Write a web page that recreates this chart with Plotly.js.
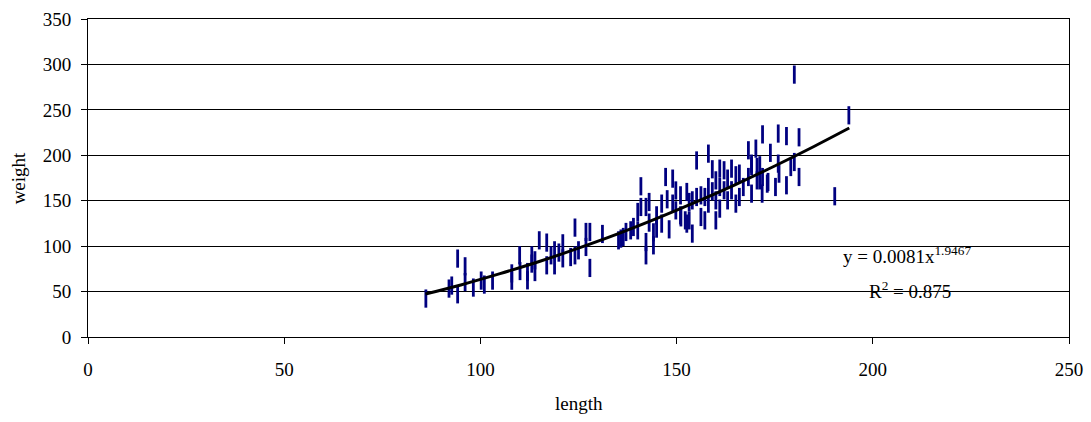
<!DOCTYPE html>
<html>
<head>
<meta charset="utf-8">
<script src="https://cdn.plot.ly/plotly-3.0.1.min.js"></script>
<style>
html,body{margin:0;padding:0;background:#fff;}
#chart{width:1091px;height:422px;}
</style>
</head>
<body>
<div id="chart"></div>
<script>
// Observed points (length, weight)
var lengthVals = [
 86.1, 92.0, 92.7, 94.2, 94.2, 96.1, 96.1, 98.2, 100.2, 101.0, 103.1, 108.0, 108.0,
 110.0, 110.1, 112.0, 112.0, 113.1, 113.1, 113.9, 113.9, 115.0, 116.9, 116.9, 118.0,
 118.9, 118.9, 120.0, 121.0, 121.0, 123.0,
 124.1, 124.1, 125.0, 126.9, 126.9, 127.9, 127.9, 131.1, 135.2, 135.8, 136.4, 137.1,
 138.3, 139.0, 140.1, 140.1, 140.9, 140.9, 142.2, 142.2, 142.2, 143.0, 143.0, 144.1,
 144.1, 144.9, 144.9, 146.2, 146.2, 147.2, 147.6, 148.1, 149.0, 149.0, 149.8, 149.8,
 151.1, 152.6, 152.6,
 151.0, 151.0, 152.2, 153.2, 153.2, 154.0, 154.0, 155.1, 155.1, 156.2, 156.2, 157.2,
 157.2, 158.1, 158.1, 158.1, 159.1, 159.1, 160.0, 160.0, 160.0, 161.0, 161.0, 161.0,
 162.1, 162.1, 163.0, 163.0, 164.0, 164.0, 165.1, 165.1, 166.0, 166.0, 167.0, 168.3,
 168.3, 169.1, 169.1, 170.2, 170.5, 170.5, 171.2, 171.2, 171.9, 171.9, 173.3, 173.9,
 175.2, 175.9, 176.1, 178.0, 178.0,
 180.0, 193.9, 190.3, 181.2, 181.2, 179.1, 180.0, 175.9, 173.1, 171.8, 169.1
];
var weightVals = [
 42.3, 53.3, 56.6, 86.3, 47.0, 77.8, 60.5, 54.4, 62.1, 57.7, 62.1, 70.0, 62.0,
 89.9, 72.6, 71.5, 62.4, 89.9, 80.8, 84.4, 71.5, 106.4, 103.9, 78.9, 89.9,
 95.4, 78.9, 92.9, 103.1, 86.6, 88.0,
 120.4, 89.9, 95.4, 115.6, 99.1, 115.6, 76.0, 113.4, 106.4, 108.3, 110.1, 115.6,
 117.4, 121.1, 137.6, 117.4, 165.9, 143.1, 143.1, 104.5, 89.9, 148.6, 125.9, 115.2,
 100.9, 133.9, 119.3, 146.8, 124.8, 176.1, 151.6, 118.5, 174.3, 146.8, 161.3, 139.4,
 131.7, 159.6, 124.8,
 155.9, 133.9, 128.4, 148.6, 128.4, 150.4, 113.8, 194.3, 154.1, 155.9, 132.1, 154.1,
 128.4, 201.8, 165.1, 146.8, 184.6, 160.4, 172.4, 150.4, 128.4, 185.3, 165.1, 141.3,
 183.5, 161.5, 174.3, 150.4, 185.3, 161.5, 178.0, 146.8, 179.8, 154.1, 165.1, 205.5,
 176.1, 190.8, 157.8, 207.3, 187.1, 172.4, 189.0, 172.4, 223.0, 176.1, 170.6, 202.7,
 165.1, 223.9, 179.8, 221.1, 167.0,
 288.8, 244.0, 154.9, 219.8, 176.1, 187.1, 192.6, 190.8, 168.8, 157.8, 188.0
];

// Power trendline
var trendX = [86, 95, 105, 115, 125, 135, 145, 155, 165, 175, 185, 194];
var trendY = [47.3, 57.3, 69.7, 83.1, 97.8, 113.5, 130.5, 148.6, 167.8, 188.2, 209.7, 230.0];

var xTicks = [0, 50, 100, 150, 200, 250];
var yTicks = [0, 50, 100, 150, 200, 250, 300, 350];

var equationText = "y = 0.0081x<sup>1.9467</sup>";
var r2Text = "R<sup>2</sup> = 0.875";
var xTitle = "length";
var yTitle = "weight";

var FONT = "Liberation Serif, Times New Roman, serif";

var traces = [
  {
    x: lengthVals, y: weightVals, type: "scatter", mode: "markers",
    marker: {symbol: "line-ns", size: 13, color: "#000080",
             line: {color: "#000080", width: 2.8}},
    hoverinfo: "x+y", showlegend: false
  },
  {
    x: trendX, y: trendY, type: "scatter", mode: "lines",
    line: {color: "#000000", width: 3, shape: "spline"},
    hoverinfo: "skip", showlegend: false
  }
];

var layout = {
  width: 1091, height: 422,
  margin: {l: 88, r: 22, t: 19, b: 85, pad: 0},
  paper_bgcolor: "#ffffff", plot_bgcolor: "#ffffff",
  font: {family: FONT, size: 19, color: "#000"},
  showlegend: false,
  xaxis: {
    range: [0, 250], tickvals: xTicks, ticktext: xTicks.map(String),
    showgrid: false, zeroline: false,
    showline: true, linecolor: "#000", linewidth: 1, mirror: true,
    ticks: "outside", ticklen: 6, tickcolor: "#000", tickwidth: 1,
    ticklabelstandoff: 9,
    tickfont: {family: FONT, size: 19, color: "#000"}
  },
  yaxis: {
    range: [0, 350], tickvals: yTicks, ticktext: yTicks.map(String),
    showgrid: true, gridcolor: "#000", gridwidth: 1, zeroline: false,
    showline: true, linecolor: "#000", linewidth: 1, mirror: true,
    ticks: "outside", ticklen: 6, tickcolor: "#000", tickwidth: 1,
    ticklabelstandoff: 6,
    tickfont: {family: FONT, size: 19, color: "#000"}
  },
  annotations: [
    {text: xTitle, xref: "paper", yref: "paper", x: 0.5, y: -0.208,
     xanchor: "center", yanchor: "middle", showarrow: false,
     font: {family: FONT, size: 19, color: "#000"}},
    {text: yTitle, xref: "paper", yref: "paper", x: -0.071, y: 0.5,
     xanchor: "center", yanchor: "middle", textangle: -90, showarrow: false,
     font: {family: FONT, size: 19, color: "#000"}},
    {text: equationText, xref: "x", yref: "y", x: 191.8, y: 90,
     xanchor: "left", yanchor: "middle", showarrow: false,
     font: {family: FONT, size: 19, color: "#000"}},
    {text: r2Text, xref: "x", yref: "y", x: 198.4, y: 52,
     xanchor: "left", yanchor: "middle", showarrow: false,
     font: {family: FONT, size: 19, color: "#000"}}
  ]
};

Plotly.newPlot("chart", traces, layout, {staticPlot: true, displayModeBar: false});
</script>
</body>
</html>
